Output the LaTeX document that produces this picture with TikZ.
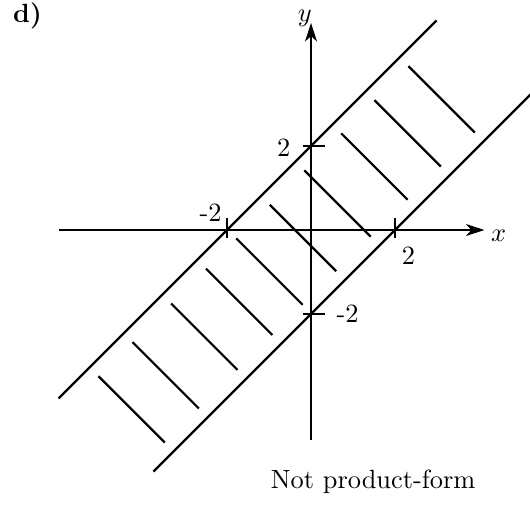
\documentclass[tikz,border=0pt]{standalone}
\usetikzlibrary{arrows.meta}
\begin{document}
\begin{tikzpicture}[x=0.56cm,y=0.56cm,line width=0.85pt,
  axis/.style={-{Stealth[length=7pt,width=4.5pt,inset=2pt]}},
  bandline/.style={line width=0.85pt},
  hatch/.style={line width=0.85pt},
  tick/.style={line width=0.85pt},
  lbl/.style={inner sep=1pt}]
\useasboundingbox (-7.405,-6.619) rectangle (5.214,5.476);
% axes
\coordinate (xs) at (-6.01,0);
\coordinate (xe) at (4.13,0);
\coordinate (ys) at (0,-5.0);
\coordinate (ye) at (0,4.93);
\draw[axis] (xs) -- (xe);
\draw[axis] (ys) -- (ye);
\node[lbl] (xl) at (4.47,-0.15) {$x$};
\node[lbl] (yl) at (-0.15,5.05) {$y$};
% band boundaries
\coordinate (u1) at (-6.01,-4.01);
\coordinate (u2) at (2.99,4.99);
\coordinate (l1) at (-3.75,-5.75);
\coordinate (l2) at (5.25,3.25);
\draw[bandline] (u1) -- (u2);
\draw[bandline] (l1) -- (l2);
% ticks
\draw[tick] (-2,0.29) -- (-2,-0.19);
\draw[tick] (2,0.29) -- (2,-0.19);
\draw[tick] (-0.19,2) -- (0.33,2);
\draw[tick] (-0.19,-2) -- (0.33,-2);
% tick labels
\node[lbl] (lxm) at (-2.39,0.40) {-2};
\node[lbl] (lxp) at (2.32,-0.62) {2};
\node[lbl] (lyp) at (-0.65,1.95) {2};
\node[lbl] (lym) at (0.87,-2.0) {-2};
% hatches
\foreach \s in {3.11,2.30,1.51,0.63,-0.19,-0.99,-1.71,-2.54,-3.46,-4.27}
  \draw[hatch] (\s-0.79,\s+0.79) -- (\s+0.79,\s-0.79);
% texts
\node[lbl] (cap) at (1.48,-6.0) {Not product-form};
\node[lbl] (d) at (-6.75,5.1) {\textbf{d)}};
\end{tikzpicture}
\end{document}
